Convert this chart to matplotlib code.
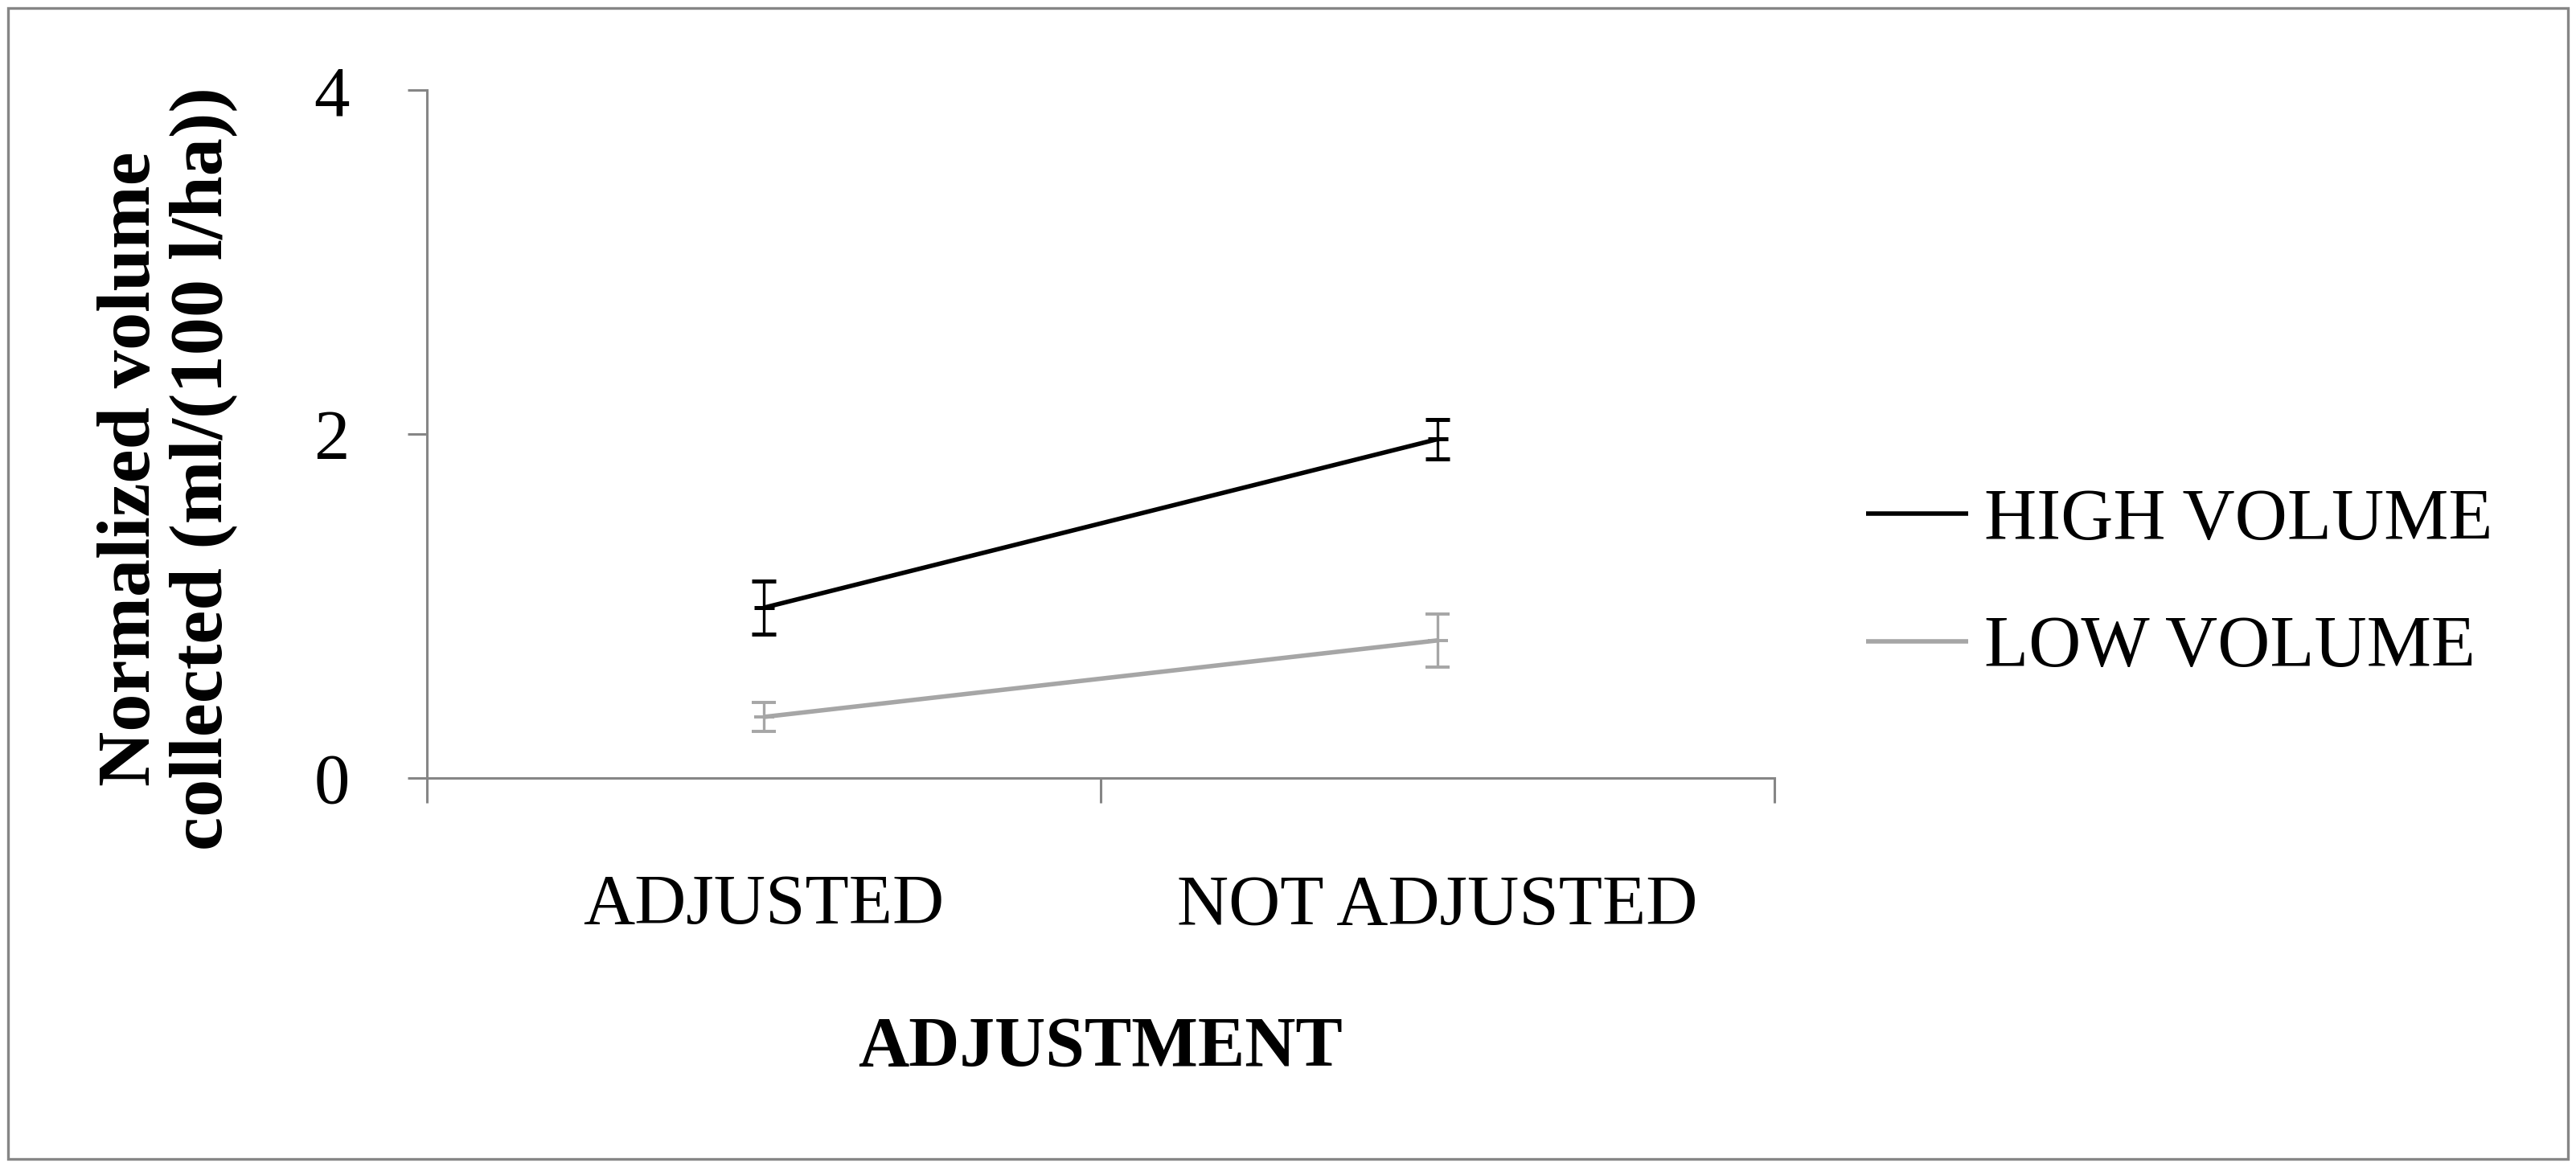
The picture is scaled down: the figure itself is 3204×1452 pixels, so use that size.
'''Normalized volume collected, adjusted vs not adjusted, two spray volumes.'''

import matplotlib
matplotlib.use("Agg")
import matplotlib.pyplot as plt
from matplotlib.patches import Rectangle

categories = ["ADJUSTED", "NOT ADJUSTED"]
high_volume = [0.99, 1.97]
high_err = [0.155, 0.115]
low_volume = [0.355, 0.80]
low_err = [0.085, 0.155]
series_names = ["HIGH VOLUME", "LOW VOLUME"]
y_ticks = [0, 2, 4]

AXIS_GREY = "#868686"
LOW_GREY = "#A6A6A6"

plt.rcParams['font.family'] = ['Liberation Serif', 'DejaVu Serif']

fig = plt.figure(figsize=(16.02, 7.26), dpi=200)
ax = fig.add_axes([531/3204, 1 - 968/1452, (2207-531)/3204, (968-112)/1452])

x = [i + 0.5 for i in range(len(categories))]

# lines (used for the legend) and error bars drawn separately
ax.plot(x, high_volume, color="black", lw=2.0, label=series_names[0], solid_capstyle="butt")
ax.plot(x, low_volume, color=LOW_GREY, lw=2.0, label=series_names[1], solid_capstyle="butt")
ax.errorbar(x, high_volume, yerr=high_err, fmt="_", color="black", ms=9, mew=1.8,
            elinewidth=1.2, capsize=5.5, capthick=1.6)
ax.errorbar(x, low_volume, yerr=low_err, fmt="_", color=LOW_GREY, ms=9, mew=1.4,
            elinewidth=1.2, capsize=5.5, capthick=1.4)

ax.set_xlim(0, len(categories))
ax.set_ylim(0, 4)
ax.set_yticks(y_ticks)
ax.set_xticks(range(len(categories) + 1))
ax.set_xticklabels([])
ax.set_xticks(x, minor=True)
ax.set_xticklabels(categories, minor=True)

for side in ["top", "right"]:
    ax.spines[side].set_visible(False)
for side in ["left", "bottom"]:
    ax.spines[side].set_color(AXIS_GREY)
    ax.spines[side].set_linewidth(1.1)

ax.tick_params(axis="y", direction="out", length=8.6, width=1.1, color=AXIS_GREY,
               pad=26, labelsize=32)
ax.tick_params(axis="x", which="major", direction="out", length=11, width=1.1, color=AXIS_GREY)
ax.tick_params(axis="x", which="minor", length=0, pad=43, labelsize=32)

ax.set_xlabel("ADJUSTMENT", fontsize=31.5, fontweight="bold")
ax.xaxis.set_label_coords(0.5, -0.345)
ax.set_ylabel("Normalized volume\ncollected (ml/(100 l/ha))", fontsize=34,
              fontweight="bold", linespacing=1.05)
ax.yaxis.set_label_coords(-0.141, 0.45)

ax.legend(handles=ax.get_lines()[:2], loc="center left",
          bbox_to_anchor=(2240/3204, 1 - 728/1452), bbox_transform=fig.transFigure,
          frameon=False, fontsize=32.5, handlelength=1.4, handletextpad=0.23,
          labelspacing=0.84)

# outer chart border
fig.add_artist(Rectangle((10/3204, 10/1452), 1 - 20/3204, 1 - 20/1452,
                         transform=fig.transFigure, fill=False,
                         edgecolor=AXIS_GREY, lw=1.2))

fig.savefig("out.png", dpi=200)
